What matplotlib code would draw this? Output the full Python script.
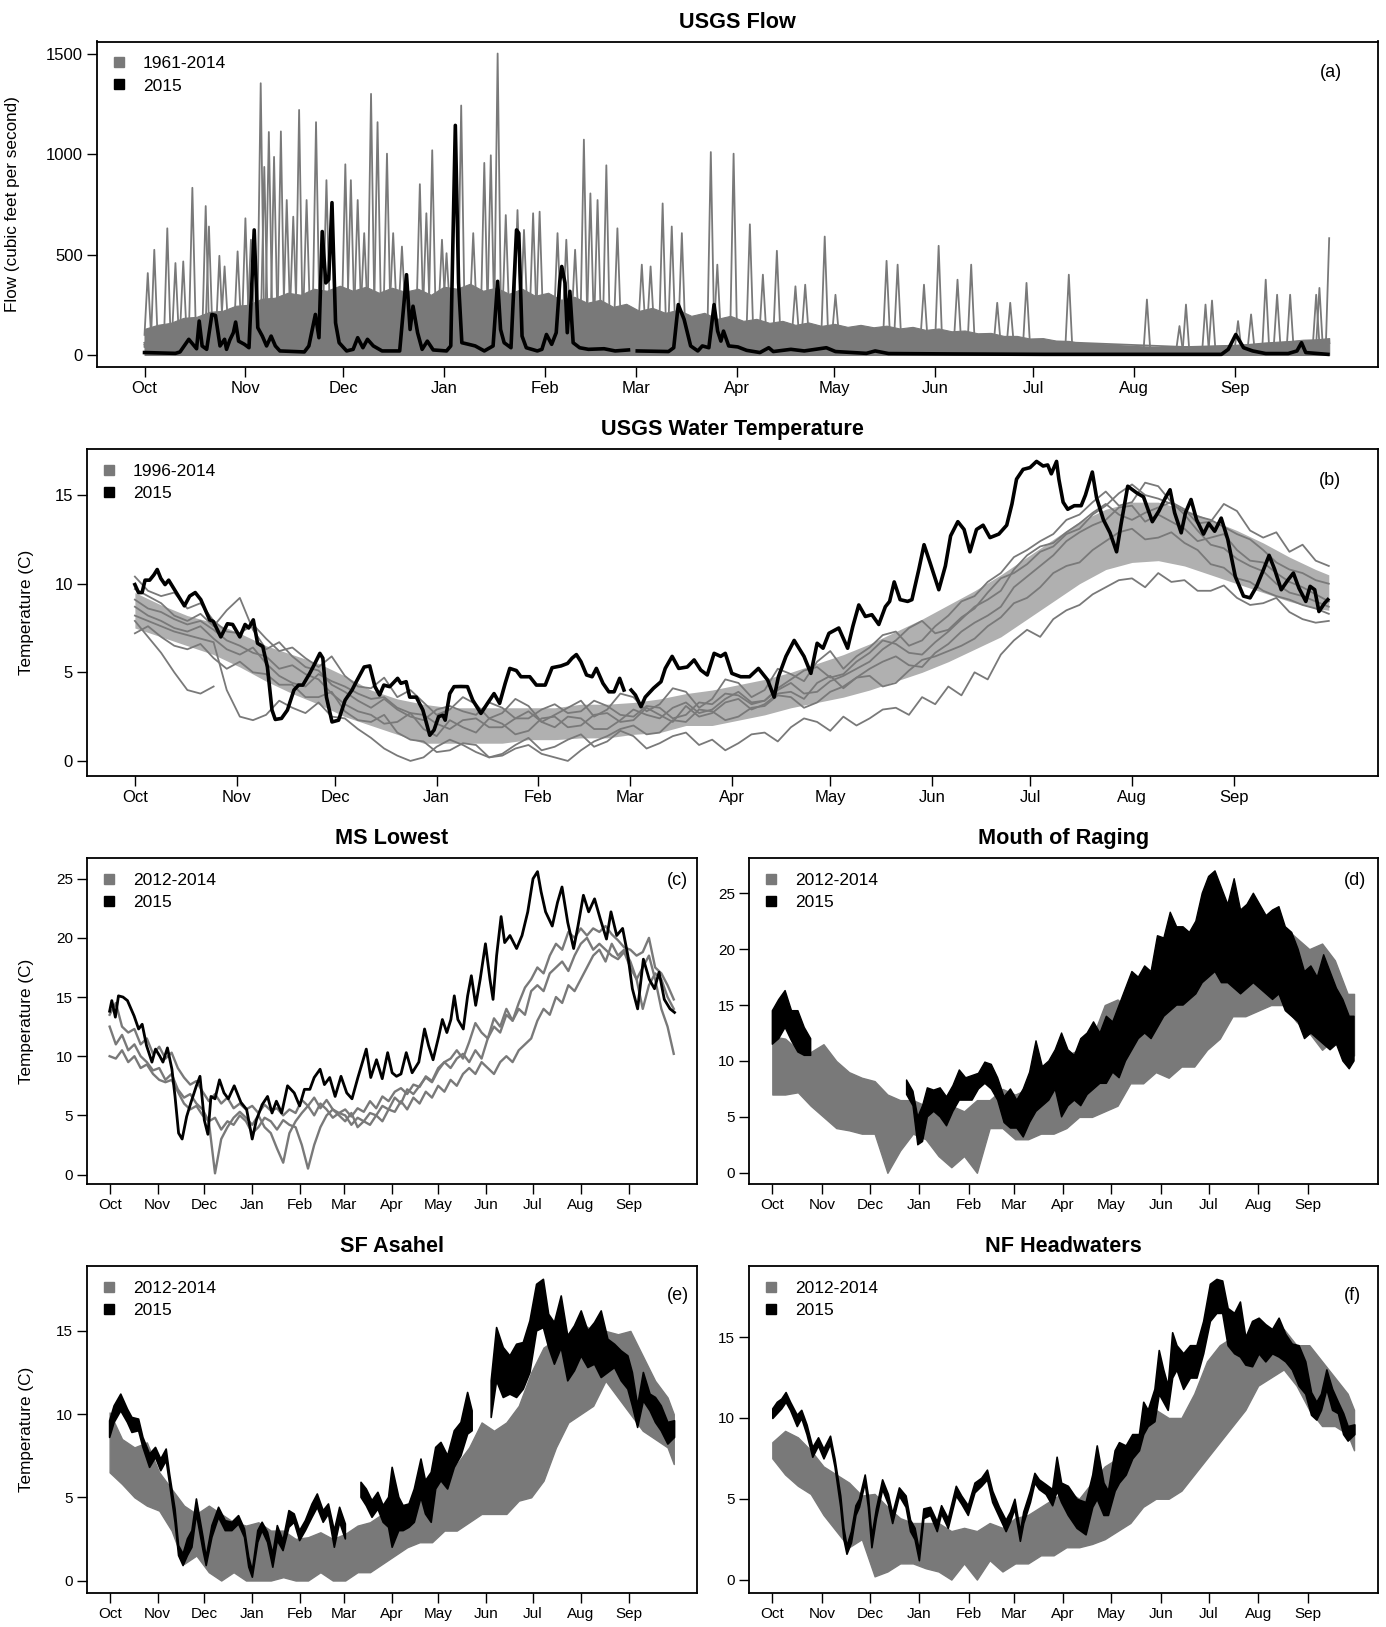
import numpy as np
import matplotlib
matplotlib.use("Agg")
import matplotlib.pyplot as plt
from matplotlib.lines import Line2D

plt.rcParams['font.family'] = ['Liberation Sans', 'DejaVu Sans']

nan = np.nan
GRAY = '#797979'
LIGHT = '#b0b0b0'

# day of water year (0 = Oct 1) where each month starts
month_days = [0, 31, 61, 92, 123, 151, 182, 212, 243, 273, 304, 335]
month_names = ['Oct', 'Nov', 'Dec', 'Jan', 'Feb', 'Mar', 'Apr', 'May', 'Jun', 'Jul', 'Aug', 'Sep']

# ---------------- (a) USGS flow ----------------
a_2015_day = [0, 9.5, 10.9, 13.6, 16, 16.8, 17.7, 19.1, 20.7, 21.8, 23.2, 24.6, 25.2, 26.2, 27.3, 28, 28.9,
              30.7, 32.1, 33.7, 34.8, 36.2, 37.5, 38.9, 40.2, 41.6, 49.1, 50.5, 52.5, 53.6, 54.6, 55.7, 56.6,
              57.6, 58.7, 59.8, 62.1, 64.1, 65.5, 67.1, 68.5, 70.3, 73, 78.4, 80.5, 81.6, 82.5, 83.9, 85.3,
              86.9, 88.7, 92.8, 94.1, 95.5, 96.5, 97.5, 99.6, 101.6, 104.4, 107.1, 108.5, 109.4, 110.5, 112.6,
              114.3, 115, 116, 117.3, 120.7, 122.1, 123.5, 125.1, 126.5, 127.6, 128.2, 129.2, 129.9, 130.7,
              131.7, 133.7, 136.4, 141.2, 144.6, 148.7, 150, 151.4, 161, 162.6, 164, 165.8, 167.8, 170, 171.4,
              173.4, 175, 176.1, 177.1, 177.9, 179.5, 182.3, 185, 189.1, 191.8, 193.2, 198.6, 202.7, 209.5,
              212.3, 221.8, 224.5, 228.6, 249, 276.4, 303.6, 330.9, 333, 335.3, 337.7, 340.5, 344.5, 351.4,
              354.1, 355.5, 356.8, 363.6]
a_2015_flow = [12, 8, 15, 78, 31, 169, 45, 28, 202, 197, 45, 78, 28, 74, 111, 164, 69,
               53, 36, 623, 136, 94, 45, 94, 45, 20, 15, 45, 202, 86, 615, 359, 375,
               759, 160, 61, 20, 28, 86, 36, 78, 45, 20, 20, 400, 127, 243, 111, 28,
               69, 25, 20, 45, 1144, 359, 61, 53, 45, 20, 45, 367, 127, 61, 36,
               623, 607, 94, 36, 20, 28, 102, 53, 111, 367, 441, 359, 111, 317,
               61, 36, 28, 31, 20, 25, nan, 20, 17, 36, 251, 177, 45, 20, 45,
               36, 251, 119, 69, 119, 45, 40, 23, 12, 36, 17, 28, 20, 36,
               17, 8, 20, 7, 5, 3, 3, 3, 28, 102, 36, 20, 7, 7,
               20, 61, 12, 3]

# storm peaks of some 1961-2014 years
a_hist_day = [
    [0, 1, 2, 13.7, 14.7, 15.7, 34.7, 35.7, 36.7, 46.5, 47.5, 48.5, 68.6, 69.6, 70.6, 96.3, 97.3, 98.3, 107.5,
     108.5, 109.5, 134, 135, 136, 173, 174, 175, 208, 209, 210, 243, 244, 245, 283, 284, 285, 307, 308, 309,
     363, 364],
    [0, 2, 3, 4, 17.8, 18.8, 19.8, 37.2, 38.2, 39.2, 51.7, 52.7, 53.7, 70.6, 71.6, 72.6, 87.4, 88.4, 89.4,
     103.4, 104.4, 105.4, 140.9, 141.9, 142.9, 180, 181, 182, 193.3, 194.3, 195.3, 199, 200, 201, 227, 228,
     229, 270, 271, 272, 327, 328, 329, 343.5, 344.5, 345.5, 364],
    [0, 6, 7, 8, 22, 23, 24, 40.9, 41.9, 42.9, 60.7, 61.7, 62.7, 73.5, 74.5, 75.5, 105.4, 106.4, 107.4, 120.4,
     121.4, 122.4, 144.3, 145.3, 146.3, 185, 186, 187, 253, 254, 255, 317, 318, 319, 360, 361, 362, 364],
    [0, 27.6, 28.6, 29.6, 30, 31, 32, 62.4, 63.4, 64.4, 83.6, 84.6, 85.6, 110, 111, 112, 113.6, 114.6, 115.6,
     136, 137, 138, 151.8, 152.8, 153.8, 158.2, 159.2, 160.2, 161, 162, 163, 175, 176, 177, 189, 190, 191,
     261, 262, 263, 319, 320, 321, 335, 336, 337, 339, 340, 341, 347, 348, 349, 359, 360, 361, 364],
    [0, 8.5, 9.5, 10.5, 18.8, 19.8, 20.8, 23.6, 24.6, 25.6, 31.7, 32.7, 33.7, 35.8, 36.8, 37.8, 42.7, 43.7,
     44.7, 48.8, 49.8, 50.8, 54.9, 55.9, 56.9, 64.5, 65.5, 66.5, 75.4, 76.4, 77.4, 85.6, 86.6, 87.6, 90.4,
     91.4, 92.4, 100, 101, 102, 115.6, 116.6, 117.6, 125.9, 126.9, 127.9, 131.3, 132.3, 133.3, 138.2, 139.2,
     140.2, 154.5, 155.5, 156.5, 164.1, 165.1, 166.1, 200, 300, 364],
    [0, 10.9, 11.9, 12.9, 38.8, 39.8, 40.8, 44.7, 45.7, 46.7, 66.5, 67.5, 68.5, 78.1, 79.1, 80.1, 91.8, 92.8,
     93.8, 118.4, 119.4, 120.4, 128.6, 129.6, 130.6, 202, 203, 204, 211.3, 212.3, 213.3, 230.4, 231.4, 232.4,
     238.5, 239.5, 240.5, 248.8, 249.8, 250.8, 265, 266, 267, 325, 326, 327, 351, 352, 353, 364],
]
a_hist_flow = [
    [100, 408, 100, 150, 833, 160, 200, 1354, 220, 220, 1221, 230, 250, 1301, 250, 250, 1243, 250, 240, 1502,
     240, 200, 1073, 200, 150, 1011, 150, 120, 590, 120, 100, 544, 100, 60, 400, 60, 30, 276, 30, 60, 582],
    [60, 80, 524, 90, 140, 742, 150, 220, 1111, 230, 230, 1160, 240, 250, 1160, 250, 240, 1020, 240, 230, 957,
     230, 180, 945, 180, 140, 1003, 140, 130, 519, 130, 120, 342, 120, 110, 469, 110, 70, 359, 70, 35, 271,
     35, 50, 375, 50, 70],
    [50, 90, 631, 90, 130, 494, 130, 200, 1114, 200, 230, 950, 230, 240, 1003, 240, 230, 995, 230, 200, 714,
     200, 170, 631, 170, 130, 651, 130, 90, 450, 90, 25, 144, 25, 50, 334, 50, 60],
    [40, 150, 516, 170, 170, 681, 170, 240, 871, 240, 230, 851, 230, 220, 697, 220, 220, 722, 220, 190, 805,
     190, 160, 450, 160, 160, 755, 160, 160, 640, 160, 130, 450, 130, 120, 400, 120, 70, 260, 70, 25, 251, 25,
     35, 169, 35, 40, 202, 40, 50, 300, 50, 55, 300, 55, 60],
    [60, 110, 458, 110, 150, 640, 150, 160, 441, 160, 190, 574, 190, 200, 937, 200, 210, 772, 210, 220, 772,
     220, 230, 871, 230, 240, 772, 240, 240, 607, 240, 230, 706, 230, 230, 574, 230, 230, 607, 230, 220, 623,
     220, 200, 607, 200, 190, 524, 190, 180, 772, 180, 150, 441, 150, 140, 607, 140, 100, 30, 60],
    [50, 110, 466, 110, 200, 987, 200, 210, 689, 210, 230, 607, 230, 230, 540, 230, 230, 507, 230, 210, 706,
     210, 200, 574, 200, 120, 350, 120, 110, 300, 110, 110, 450, 110, 100, 350, 100, 95, 375, 95, 70, 260, 70,
     25, 251, 25, 50, 300, 50, 60],
]
# upper edge of the dense mass of 1961-2014 traces, every 4 days
core_day = list(range(0, 365, 4))
a_core_flow = [130, 150, 160, 185, 190, 215, 220, 245, 250, 280, 285, 310, 300, 330, 320, 345, 320, 340, 310, 335,
               315, 330, 300, 340, 330, 355, 320, 335, 305, 330, 295, 310, 275, 290, 260, 275, 240, 255, 220, 235,
               210, 225, 195, 210, 180, 195, 170, 180, 160, 170, 150, 162, 145, 155, 140, 150, 138, 146, 132, 140,
               125, 132, 118, 122, 108, 110, 95, 95, 82, 84, 72, 70, 58, 56, 47, 45, 38, 37, 32, 32,
               32, 36, 40, 44, 50, 56, 62, 66, 70, 76, 78, 84]

# ---------------- (b) USGS water temperature ----------------
b_2015_day = [0, 1.1, 2.2, 3.1, 4.5, 5.8, 6.8, 7.9, 9.2, 10.3, 12.6, 15.1, 16.7, 18.4, 20.1, 22.8, 23.9, 26.2,
              28.2, 29.8, 32, 33.6, 34.7, 36.1, 37.4, 39, 40.4, 41.8, 42.8, 44.7, 46.5, 48.5, 49.9, 51.2, 53.3,
              54.6, 56.4, 57.3, 58.4, 60.1, 62.1, 64.1, 66.2, 67.5, 69.9, 71.6, 73.2, 74.6, 75.9, 77.7, 80.1,
              81.1, 82.7, 83.8, 85.8, 87.8, 89.9, 91.2, 92.6, 93.9, 94.6, 96, 97.3, 99.4, 101.4, 103, 105.5,
              107.5, 109.5, 111.2, 112.9, 114.3, 116.3, 117.7, 120.4, 122.4, 125.1, 126.1, 127.2, 129.9, 131.9,
              133.3, 134.6, 136, 137.7, 139.4, 140.7, 142.7, 144.5, 146.1, 147.8, 149.1, 150.2, 151.3, 152.6,
              154.3, 155.6, 158.1, 160.4, 161.7, 163.8, 165.8, 168.4, 170.5, 172.5, 174.5, 176.6, 178.6, 180,
              182, 184.7, 187.4, 190.1, 192.9, 194.9, 196.2, 198.5, 201, 204, 206.1, 208, 209.8, 211.6, 214.6,
              217.3, 218.9, 220.7, 222.7, 224.7, 226.8, 228.8, 230.1, 231.5, 233.3, 235.6, 236.9, 239, 240.6,
              242.4, 245.1, 247.1, 248.7, 250.9, 252.8, 254.6, 256.6, 258.6, 260.7, 263.4, 265.8, 267.4, 268.8,
              270.8, 272.9, 274.9, 276.9, 278.3, 279.4, 281, 281.7, 283, 284.4, 286.4, 288.5, 289.8, 291.9,
              293.2, 295.3, 297.3, 299.3, 300.7, 302.7, 305.4, 307.5, 310.2, 312.2, 314.2, 315.6, 317, 319,
              320.3, 322, 323.7, 325.8, 327.4, 329.2, 331.2, 333.2, 335.5, 338, 340, 342, 344.1, 345.8, 347.5,
              349.5, 351.5, 353.2, 354.9, 357, 358.3, 359.7, 361, 362.7, 363.7]
b_2015_temp = [9.95, 9.5, 9.5, 10.2, 10.2, 10.5, 10.8, 10.3, 9.95, 10.2, 9.5, 8.75, 9.3, 9.5, 9.1, 7.96, 7.87, 7.0,
               7.74, 7.7, 7.0, 7.7, 7.5, 7.96, 6.64, 6.45, 5.3, 2.87, 2.34, 2.4, 2.87, 4.0, 4.28, 4.28, 4.94,
               5.4, 6.07, 5.8, 3.6, 2.2, 2.3, 3.43, 4.0, 4.47, 5.3, 5.36, 4.19, 3.72, 4.28, 4.19, 4.66,
               4.38, 4.47, 3.6, 3.6, 2.87, 1.45, 1.74, 2.5, 2.58, 2.3, 3.8, 4.19, 4.2, 4.19, 3.43, 2.68,
               3.25, 3.8, 3.25, 4.38, 5.22, 5.1, 4.75, 4.75, 4.28, 4.28, 4.75, 5.26, 5.36, 5.5,
               5.8, 6.0, 5.6, 4.85, 4.75, 5.22, 4.38, 3.9, 3.9, 4.66, 4.0, nan, 4.0, 3.72,
               3.06, 3.6, 4.1, 4.47, 5.22, 5.9, 5.22, 5.3, 5.7, 5.13, 4.85, 6.07, 5.9, 6.07,
               4.94, 4.75, 4.75, 5.22, 4.57, 3.6, 4.75, 5.9, 6.8, 5.9, 4.94, 6.64, 6.36, 7.2, 7.5,
               6.36, 7.6, 8.8, 8.15, 8.25, 7.7, 8.7, 9.0, 10.1, 9.1, 9.0, 9.1, 10.8, 12.2,
               11.2, 9.66, 11.0, 12.7, 13.5, 13.06, 11.8, 13.06, 13.3, 12.6, 12.8, 13.3, 14.5, 15.9,
               16.45, 16.55, 16.9, 16.64, 16.7, 16.2, 16.9, 15.9, 14.6, 14.2, 14.4, 14.4, 15.0, 16.3,
               14.85, 13.6, 12.87, 11.8, 13.4, 15.5, 15.13, 14.9, 13.5, 14.1, 14.85, 15.3, 14.0, 12.87,
               14.0, 14.75, 13.6, 12.8, 13.4, 12.96, 13.7, 12.5, 10.4, 9.3, 9.2, 9.85, 10.8, 11.6, 10.8,
               9.66, 10.2, 10.6, 9.75, 9.0, 9.85, 9.66, 8.43, 8.9, 9.1]

# a few of the 1996-2014 years, every 4 days
b_hist_temp = [
    [10.4, 9.6, 9.3, 9.5, 8.6, 8.9, 7.9, 7.3, 7.2, 7.7, 6.9, 6.2, 6.4, 5.8, 5.3, 5.9, 4.8, 4.2, 4.1, 4.7,
     3.6, 4.0, 3.3, 2.6, 2.9, 3.6, 3.2, 2.4, 2.7, 3.5, 3.1, 2.2, 2.6, 3.0, 3.4, 2.5, 2.9, 3.8, 3.6, 2.8,
     3.2, 4.1, 3.9, 3.0, 3.5, 4.6, 4.4, 3.6, 4.0, 5.2, 4.9, 4.5, 5.6, 6.2, 5.2, 5.9, 6.4, 7.1, 7.3, 6.5,
     6.8, 7.6, 8.2, 9.0, 9.3, 10.1, 10.6, 11.5, 11.9, 12.4, 12.8, 13.6, 13.9, 14.6, 15.2, 14.4, 14.6, 15.7,
     15.5, 14.6, 14.2, 13.4, 13.5, 14.5, 14.1, 13.0, 12.6, 12.9, 11.8, 12.2, 11.3, 11.0],
    [7.2, 7.6, 7.0, 6.5, 6.3, 6.6, 5.8, 5.2, 5.6, 5.0, 4.9, 4.3, 4.3, 3.6, 3.6, 3.9, 2.8, 2.3, 2.2, 2.6,
     1.6, 1.2, 1.1, 0.5, 0.6, 1.0, 0.9, 0.2, 0.4, 0.9, 1.3, 0.6, 0.8, 1.2, 1.5, 0.8, 1.1, 1.7, 1.4, 0.7,
     1.0, 1.4, 1.6, 0.9, 1.2, 0.6, 1.0, 1.5, 1.6, 1.1, 1.9, 2.4, 2.2, 1.7, 2.5, 2.0, 2.4, 2.9, 3.0, 2.6,
     3.6, 3.2, 4.2, 3.7, 5.0, 4.6, 6.0, 6.8, 7.4, 7.0, 8.0, 8.5, 8.8, 9.4, 9.8, 10.2, 10.3, 9.8, 10.6, 10.1,
     10.2, 9.6, 9.6, 9.9, 9.2, 8.8, 8.9, 9.2, 8.4, 8.0, 7.8, 7.9],
    [9.1, 8.6, 8.4, 8.0, 7.7, 7.9, 7.4, 6.8, 6.5, 6.1, 5.9, 5.2, 5.4, 4.9, 4.6, 3.8, 3.2, 2.8, 2.6, 2.1,
     2.2, 2.7, 1.8, 1.4, 2.3, 1.9, 1.6, 2.4, 2.1, 1.5, 1.7, 2.4, 2.5, 1.9, 2.0, 2.6, 2.7, 2.2, 2.3, 3.0,
     2.6, 2.2, 3.1, 2.5, 2.7, 3.3, 3.5, 2.9, 3.2, 3.8, 3.9, 3.5, 4.4, 4.8, 4.1, 4.7, 5.2, 5.6, 5.9, 5.4,
     5.3, 6.1, 6.6, 7.3, 7.8, 8.2, 8.7, 9.8, 10.4, 11.0, 11.6, 12.4, 12.9, 13.3, 13.6, 14.3, 14.4, 13.5,
     13.9, 13.5, 13.1, 12.4, 12.6, 12.8, 11.9, 11.3, 11.2, 10.6, 10.1, 9.8, 9.4, 9.0],
    [8.2, 7.9, 7.6, 7.3, 7.1, 6.9, 6.7, 4.0, 2.5, 2.3, 2.6, 3.4, 3.0, 2.7, 3.3, 2.5, 2.4, 1.8, 1.3, 0.7,
     0.3, 0.0, 0.2, 0.8, 1.2, 0.9, 0.5, 0.2, 0.3, 0.7, 0.9, 0.4, 0.2, 0.0, 0.6, 1.1, 1.4, 1.8, 2.0, 1.5,
     1.6, 2.3, 2.2, 2.9, 2.8, 2.3, 2.5, 3.0, 3.1, 3.7, 3.6, 3.0, 3.3, 3.9, 4.2, 4.7, 4.8, 4.2, 4.4, 5.1,
     5.7, 5.9, 6.2, 6.5, 6.9, 7.6, 8.1, 8.9, 9.2, 9.8, 10.6, 11.0, 11.2, 11.9, 12.4, 12.9, 13.1, 12.5,
     12.6, 12.9, 12.3, 11.9, 11.1, 10.9, 10.3, 10.1, 9.6, 9.3, 9.1, 8.8, 8.6, 8.3],
    [8.7, 8.2, 7.9, 7.5, 7.3, 7.6, 6.9, 6.3, 6.0, 6.4, 5.5, 4.8, 4.4, 4.2, 4.9, 4.5, 4.2, 3.8, 3.5, 3.6,
     3.0, 2.7, 2.6, 2.1, 1.8, 2.3, 2.4, 1.9, 1.9, 2.4, 2.8, 2.2, 1.9, 2.5, 2.4, 1.8, 1.8, 2.3, 2.9, 2.6,
     2.4, 3.0, 3.3, 2.7, 2.9, 3.5, 3.9, 3.3, 3.4, 4.0, 4.4, 3.8, 3.9, 4.5, 4.8, 5.2, 5.6, 6.3, 6.8, 7.5,
     7.9, 7.2, 7.4, 8.1, 8.6, 9.5, 10.3, 10.6, 11.1, 11.8, 12.1, 12.8, 13.1, 13.9, 14.4, 15.1, 15.6, 15.0,
     14.8, 14.5, 14.1, 13.8, 13.6, 13.2, 12.8, 12.5, 11.9, 11.2, 10.8, 10.6, 10.2, 10.0],
    [9.7, 9.3, 8.9, 8.2, 7.9, 8.3, 7.6, 8.5, 9.2, 7.4, 6.3, 6.7, 5.9, 5.3, 5.1, 4.3, 3.9, 3.4, 3.0, 3.5,
     2.9, 2.5, 2.3, 2.9, 3.1, 2.8, 2.6, 3.3, 3.0, 2.4, 2.4, 2.9, 3.2, 2.7, 2.8, 3.4, 3.1, 2.6, 2.5, 3.1,
     3.0, 2.4, 2.6, 3.3, 3.2, 3.8, 3.7, 3.2, 3.4, 4.1, 4.6, 5.1, 5.3, 4.7, 4.9, 5.6, 6.1, 6.8, 6.6, 6.1,
     6.0, 6.7, 7.3, 8.0, 8.7, 9.1, 9.6, 10.8, 11.6, 12.1, 12.3, 12.9, 13.4, 14.0, 14.5, 13.9, 13.6, 14.0,
     14.3, 14.6, 13.9, 13.0, 12.2, 12.0, 11.4, 11.0, 10.7, 10.0, 9.5, 9.3, 9.0, 8.7],
    [7.9, 7.0, 6.1, 5.0, 4.0, 3.8, 4.2] + [nan] * 85,
]
# dense middle of the 1996-2014 traces, every 8 days
band_day = list(range(0, 361, 8)) + [364]
b_core_lo = [7.5, 7.0, 6.5, 6.0, 5.3, 4.5, 3.8, 3.2, 2.5, 2.0, 1.5, 1.0, 1.0, 1.0, 1.0, 1.2, 1.2, 1.3, 1.3, 1.5,
             1.6, 2.0, 2.0, 2.3, 2.6, 3.0, 3.3, 3.6, 4.0, 4.5, 5.0, 5.6, 6.3, 7.0, 8.0, 9.0, 10.0, 10.8, 11.2,
             11.3, 11.0, 10.5, 10.0, 9.5, 9.0, 8.6, 8.5]
b_core_hi = [9.5, 8.8, 8.2, 7.8, 7.2, 6.5, 6.0, 5.5, 4.8, 4.0, 3.5, 3.2, 3.0, 3.0, 3.0, 3.0, 3.0, 3.2, 3.2, 3.3,
             3.5, 3.8, 4.0, 4.3, 4.6, 5.0, 5.5, 6.0, 6.6, 7.3, 8.0, 8.8, 9.6, 10.5, 11.5, 12.5, 13.5, 14.2, 14.6,
             14.6, 14.2, 13.6, 13.0, 12.3, 11.5, 10.8, 10.5]

# ---------------- (c) MS Lowest ----------------
c_2015_day = [0, 1.4, 3.7, 5.7, 8.6, 11.5, 15.8, 18.7, 21, 23.8, 27.3, 29.6, 32.4, 34.4, 37.3, 40.2, 42.2, 44.5,
              46.8, 49.7, 52.5, 56, 58.3, 61.1, 63.4, 65.4, 68, 70.9, 73.8, 76.6, 80.4, 84.7, 88.4, 92, 94.7,
              98.4, 101.9, 104.8, 107.6, 111, 114.8, 119.1, 122.6, 125.7, 129.2, 132, 135.8, 138.6, 142, 145.5,
              149.3, 153, 156.4, 160.2, 163.6, 165.6, 168.5, 172.2, 175.9, 179.4, 182.3, 185.1, 188, 191.4,
              195.2, 199.5, 203.2, 205.8, 208.7, 212.4, 214.7, 217.6, 220.2, 222.4, 224.7, 228.2, 231, 233.4,
              236.2, 239.1, 242.5, 245.4, 247.4, 249.7, 252.6, 254.9, 258.3, 262.6, 266.1, 269.8, 273.2, 276.1,
              278.4, 281.3, 285.6, 289, 291.9, 295.6, 299.4, 302.2, 305.7, 309.1, 312.9, 316.6, 320.6, 323.5,
              327.2, 331, 334.4, 337.3, 340.7, 344.4, 348.2, 351.6, 354.5, 357.9, 361.6, 364.5]
c_2015_temp = [13.8, 14.7, 13.3, 15.1, 15.0, 14.7, 13.4, 12.3, 12.7, 10.9, 9.5, 10.6, 10.0, 9.5, 10.7, 8.9, 6.6, 3.5,
               3.0, 4.9, 6.1, 7.5, 8.3, 4.6, 3.4, 6.6, 6.4, 8.0, 6.9, 6.4, 7.5, 6.1, 5.5, 3.0, 4.6,
               5.9, 6.6, 5.2, 6.2, 5.2, 7.5, 6.9, 5.8, 7.2, 7.2, 8.2, 8.9, 7.6, 8.2, 6.6,
               8.3, 6.9, 6.4, 8.2, 9.7, 10.6, 8.2, 9.7, 8.1, 10.3, 8.6, 8.3, 8.5, 10.3,
               8.6, 9.5, 12.3, 10.9, 9.7, 11.7, 13.1, 12.0, 13.1, 15.1, 13.1, 12.3, 15.1, 16.8,
               14.3, 16.5, 19.5, 16.5, 14.8, 18.5, 21.8, 19.6, 20.2, 19.1, 20.2, 22.2, 25.0, 25.6,
               23.9, 22.2, 21.0, 23.0, 24.3, 21.3, 19.1, 21.0, 23.6, 22.2, 23.3, 21.6, 19.9, 22.2,
               20.2, 20.8, 18.5, 15.7, 14.0, 18.2, 16.5, 15.7, 17.1, 14.8, 14.0, 13.7]

c_hist_temp = [
    [13.5, 14.5, 12.5, 12.0, 12.3, 11.0, 11.5, 10.2, 10.8, 9.8, 10.3, 9.0, 8.2, 7.6, 7.9, 7.0, 6.2, 6.8, 6.0, 6.5,
     5.6, 6.0, 5.5, 5.8, 5.2, 5.9, 5.4, 5.6, 5.0, 5.5, 5.2, 6.3, 5.8, 6.5, 5.6, 6.3, 5.5, 5.2, 5.5, 4.9,
     5.6, 5.3, 6.2, 5.6, 6.6, 6.2, 7.0, 7.3, 6.8, 7.6, 7.4, 8.3, 7.9, 9.0, 9.5, 9.8, 10.5, 9.8, 11.2, 12.8,
     12.0, 11.5, 13.2, 12.5, 14.0, 13.0, 14.5, 15.8, 16.5, 17.5, 17.0, 18.5, 19.5, 19.0, 20.5, 20.0, 20.8, 20.2,
     20.8, 20.5, 21.0, 20.3, 19.8, 19.2, 19.0, 18.5, 18.8, 20.0, 17.5, 17.0, 16.0, 14.8],
    [12.5, 11.0, 11.8, 10.5, 11.0, 10.0, 9.5, 8.8, 9.0, 8.0, 8.5, 7.2, 6.5, 6.8, 6.0, 5.5, 4.5, 0.1, 3.0, 4.0,
     4.8, 5.3, 4.8, 4.2, 5.0, 4.0, 3.5, 2.2, 1.0, 3.5, 4.5, 5.2, 5.8, 5.0, 6.0, 5.5, 4.8, 5.2, 5.0, 4.2,
     4.8, 4.5, 5.2, 5.0, 5.8, 5.5, 6.5, 6.0, 7.2, 6.8, 7.5, 8.2, 7.8, 8.8, 9.5, 9.0, 9.8, 10.2, 9.5, 10.5,
     9.8, 11.5, 12.5, 12.0, 13.5, 13.0, 14.0, 13.5, 15.5, 16.0, 15.5, 17.0, 17.5, 18.0, 17.2, 18.5, 19.5, 20.0,
     19.0, 19.5, 19.0, 18.5, 18.2, 18.8, 17.5, 16.5, 17.5, 18.5, 16.5, 14.0, 12.5, 10.2],
    [10.0, 9.8, 10.5, 9.5, 10.0, 9.0, 9.3, 8.5, 8.0, 7.8, 8.0, 7.0, 6.0, 5.5, 5.8, 5.0, 4.5, 4.8, 3.8, 4.5,
     4.2, 5.0, 4.5, 3.5, 4.0, 4.8, 4.5, 3.8, 4.6, 4.2, 4.0, 2.5, 0.5, 2.5, 4.0, 5.0, 5.5, 5.0, 4.5, 5.2,
     4.0, 4.5, 4.2, 5.0, 4.5, 5.5, 5.3, 6.2, 5.5, 6.5, 6.0, 7.0, 6.5, 7.5, 7.0, 8.0, 7.5, 8.5, 9.0, 8.5,
     9.5, 9.0, 8.5, 9.5, 10.0, 9.5, 10.5, 11.0, 11.5, 13.0, 14.0, 13.5, 15.0, 14.5, 16.0, 15.5, 16.5, 17.5,
     18.5, 19.0, 18.0, 19.5, 18.5, 19.0, 18.0, 16.5, 14.0, 16.0, 17.0, 16.5, 15.0, 14.0],
]

# ---------------- (d) Mouth of Raging: daily low / high ----------------
d_2015_day = [0, 4, 8, 12, 16, 20, 24, 54, 84, 88, 91, 94, 97] + list(range(101, 358, 4)) + [361, 364]
d_2015_lo = [11.5, 12.0, 13.0, 11.8, 10.8, 10.5, 10.5, nan, 7.0, 6.0, 2.5, 2.8, 5.0,
             5.5, 5.0, 4.2, 5.5, 6.5, 6.5, 6.5, 7.5, 8.0, 7.5, 6.5, 4.5, 4.0, 4.0, 3.2, 4.5, 5.5, 6.0, 6.5,
             7.5, 5.0, 6.0, 6.5, 6.0, 7.0, 7.5, 8.0, 8.0, 9.0, 8.5, 10.0, 11.0, 12.0, 12.5, 12.0, 13.0, 14.0,
             14.5, 15.0, 15.0, 15.5, 16.0, 17.0, 17.5, 18.0, 17.0, 17.0, 16.5, 16.0, 16.5, 17.0, 16.5, 16.0,
             15.5, 16.0, 14.5, 14.0, 13.5, 12.0, 12.5, 12.0, 11.5, 11.0, 11.5, 10.0, 9.3, 10.0]
d_2015_hi = [14.5, 15.5, 16.3, 14.5, 14.5, 13.0, 12.0, nan, 8.3, 7.3, 5.0, 6.0, 7.6,
             7.4, 7.6, 6.8, 7.8, 9.2, 8.5, 8.7, 8.9, 9.9, 9.7, 8.5, 6.8, 7.5, 6.5, 7.5, 9.0, 11.8, 9.5, 10.0,
             11.0, 12.5, 11.0, 10.5, 12.0, 12.5, 13.5, 12.5, 14.0, 13.5, 15.0, 16.5, 18.0, 17.5, 18.5, 18.0,
             21.2, 21.0, 23.3, 22.0, 22.0, 21.5, 22.5, 25.0, 26.5, 27.0, 25.5, 24.0, 26.3, 23.5, 24.0, 25.0,
             24.0, 23.0, 23.5, 23.8, 22.0, 21.5, 20.0, 18.0, 18.5, 17.5, 19.5, 18.0, 16.5, 15.5, 14.0, 14.0]
d_hist_lo = [7.0, 7.0, 7.2, 6.0, 5.0, 4.0, 3.8, 3.5, 3.5, 0.0, 2.0, 3.5, 3.0, 1.5, 0.5, 1.5, 0.0, 4.0, 4.0, 3.0,
             3.0, 3.5, 3.5, 4.0, 5.0, 5.0, 5.5, 6.0, 8.0, 8.0, 9.0, 8.5, 9.5, 9.5, 11.0, 12.0, 14.0, 14.0, 14.5,
             15.0, 15.0, 13.5, 12.5, 11.0, 12.0, 10.5, 10.5]
d_hist_hi = [12.2, 12.0, 11.0, 10.8, 11.5, 10.0, 9.0, 8.5, 8.2, 7.0, 6.5, 6.5, 6.0, 7.0, 6.0, 5.5, 6.5, 6.5, 7.5,
             7.0, 7.5, 9.5, 9.0, 10.5, 11.0, 12.0, 15.0, 15.5, 14.5, 15.5, 16.5, 16.0, 17.0, 17.5, 19.0, 22.0,
             24.0, 23.0, 23.5, 22.5, 22.0, 21.0, 20.0, 20.5, 19.0, 16.0, 16.0]

# ---------------- (e) SF Asahel ----------------
e_2015_day = [0, 2.9, 7.2, 11.5, 14.4, 18.7, 21.5, 25.8, 29.6, 33, 36.5, 38.7, 42.2, 44.5, 47.4, 50.2, 53.1, 56,
              60.3, 62.3, 66, 70.3, 74.6, 78.9, 83.2, 87, 89.8, 92.1, 95.6, 98.4, 101.9, 105.3, 108.2, 111.9,
              115.7, 119.1, 122.6, 126.3, 130.6, 134, 137.8, 141.2, 145, 148.4, 152.1, 157, 162.2, 165.6, 169.3,
              173.1, 176.5, 180, 182.3, 186.6, 189.4, 193.2, 196.6, 200.9, 203.8, 207.5, 210.4, 213.8, 218.1,
              222.4, 226.7, 231, 233.9, 240, 246.2, 249.7, 254, 258.3, 262.6, 266.9, 271.2, 275.5, 279.9, 283.3,
              287, 291.4, 295.6, 299.9, 304.3, 308.6, 312.9, 317.2, 321.5, 325.8, 330.1, 334.4, 337.3, 340.7,
              344.4, 348.7, 352.2, 355.9, 360.2, 364.5]
e_2015_lo = [8.6, 9.5, 10.2, 9.5, 8.9, 9.0, 8.0, 6.8, 7.4, 6.6, 7.2, 5.8, 3.5, 1.5, 0.9, 1.5, 2.0, 4.0, 1.8, 0.9,
             2.6, 3.8, 3.0, 3.0, 3.4, 2.6, 0.8, 0.2, 2.3, 3.0, 2.3, 0.8, 2.4, 1.8, 3.2, 3.5, 2.4, 3.0, 3.8, 4.4,
             3.5, 4.0, 2.0, 3.5, 2.5, nan, 5.0, 4.5, 3.8, 4.3, 3.5, 3.2, 2.0, 3.0, 3.0, 3.2, 3.5, 5.0, 4.0, 3.5,
             5.5, 6.0, 5.5, 6.8, 7.5, 8.8, 9.0, nan, 9.8, 12.0, 11.0, 11.2, 11.0, 11.5, 12.5, 15.0, 15.2, 14.0,
             13.0, 14.0, 12.0, 12.6, 13.5, 12.8, 13.0, 12.2, 12.5, 12.8, 12.0, 11.5, 10.5, 9.2, 10.8, 10.2, 9.5,
             9.0, 8.2, 8.6]
e_2015_hi = [9.6, 10.5, 11.2, 10.3, 9.8, 9.7, 8.6, 7.6, 8.0, 7.3, 7.9, 6.4, 4.3, 2.1, 1.6, 2.5, 3.0, 4.9, 2.6, 1.4,
             3.3, 4.4, 3.6, 3.5, 3.9, 3.1, 1.4, 0.6, 3.0, 3.5, 2.9, 1.6, 3.3, 2.4, 4.2, 4.0, 3.0, 3.6, 4.6, 5.2,
             4.2, 4.6, 3.0, 4.4, 3.4, nan, 5.9, 5.5, 4.8, 5.3, 4.5, 5.0, 6.8, 5.0, 4.5, 4.6, 5.5, 7.3, 6.0, 6.5,
             8.0, 8.3, 7.5, 9.0, 9.5, 11.3, 10.2, nan, 12.0, 15.2, 14.0, 13.5, 14.2, 14.3, 15.6, 17.8, 18.1, 16.0,
             15.5, 17.1, 14.7, 15.3, 16.2, 15.0, 15.5, 16.2, 14.5, 14.2, 13.8, 13.5, 12.5, 10.5, 12.5, 11.2, 11.0,
             10.5, 9.5, 9.6]
e_hist_lo = [6.5, 5.8, 5.0, 4.5, 4.2, 3.0, 1.0, 1.5, 0.5, 0.0, 0.5, 0.0, 0.0, 0.0, 0.2, 0.0, 0.0, 0.5, 0.0, 0.0,
             0.5, 0.5, 1.0, 1.5, 2.0, 2.3, 2.3, 3.0, 3.0, 3.5, 4.0, 4.0, 4.0, 4.8, 5.0, 6.0, 8.0, 9.5, 10.0, 10.5,
             12.0, 11.0, 10.0, 9.0, 8.5, 8.0, 7.0]
e_hist_hi = [10.1, 8.5, 8.0, 8.3, 6.5, 5.5, 4.5, 4.0, 4.5, 4.0, 3.5, 3.3, 3.5, 3.0, 3.0, 2.5, 2.6, 2.9, 2.5, 2.8,
             3.3, 3.5, 4.0, 4.2, 4.5, 5.5, 6.0, 6.5, 7.0, 8.0, 9.5, 9.0, 9.5, 10.5, 12.5, 14.0, 14.5, 14.5, 15.5,
             15.0, 15.0, 14.8, 15.0, 13.5, 12.0, 11.0, 10.0]

# ---------------- (f) NF Headwaters ----------------
f_2015_day = [0, 2.8, 5.6, 8.3, 11.1, 15.3, 18.1, 21.4, 25, 28.6, 32, 36.1, 38.9, 42.5, 44.5, 46.4, 49.2, 52, 54.2,
              57.8, 59.8, 62, 64.8, 68.7, 72.3, 75, 79.2, 83.4, 86.2, 89, 91.7, 94.5, 98.7, 102.9, 105.6, 109.8,
              114.8, 118.2, 122.3, 126.5, 130.7, 134.3, 137.6, 141.8, 146, 148.7, 151.5, 154.9, 157, 161.2, 164,
              166.8, 171, 175.1, 177.9, 180.7, 184.9, 190.4, 196, 200.2, 203, 207.2, 210, 214.2, 216.9, 221.1,
              225.2, 229.4, 232.1, 234.9, 239.1, 241.8, 244.6, 247.4, 250.2, 252.9, 257.1, 261.3, 265.4, 269.6,
              273.8, 277.9, 281.5, 284.9, 289, 292.6, 296, 300.2, 304.3, 308.5, 312.7, 316.8, 321, 325.1, 329.3,
              333.5, 337.1, 340.4, 343.3, 346.7, 350.3, 353.9, 357.2, 360, 364.2]
f_2015_lo = [10.0, 10.3, 10.6, 11.0, 10.5, 9.5, 10.0, 9.0, 7.6, 8.3, 7.5, 8.4, 7.0, 4.5, 2.5, 1.6, 2.3, 4.0, 4.5,
             6.0, 4.5, 2.0, 3.8, 5.6, 4.7, 3.5, 5.2, 4.5, 3.0, 2.5, 1.2, 3.8, 4.0, 3.0, 4.1, 3.2, 5.2, 4.7, 4.0,
             5.4, 5.8, 6.2, 4.8, 3.9, 3.0, 3.6, 4.4, 2.4, 3.5, 4.8, 6.0, 5.6, 5.3, 4.6, 5.5, 4.8, 4.0, 3.2, 2.8,
             4.5, 5.0, 4.0, 4.0, 5.5, 6.0, 6.5, 7.5, 8.0, 9.0, 9.5, 9.8, 11.5, 11.0, 10.5, 12.5, 13.0, 11.8,
             12.5, 12.5, 14.0, 16.0, 16.5, 16.5, 14.5, 14.0, 13.8, 13.3, 13.2, 14.0, 13.5, 14.0, 13.8, 13.5,
             13.0, 12.0, 11.5, 10.2, 9.9, 10.5, 11.8, 10.5, 10.3, 9.0, 8.6, 9.0]
f_2015_hi = [10.6, 11.0, 11.2, 11.6, 11.0, 10.2, 10.5, 9.6, 8.2, 8.8, 8.1, 8.9, 7.5, 5.2, 3.2, 2.1, 3.0, 4.6, 5.0,
             6.5, 5.2, 2.7, 4.4, 6.2, 5.3, 4.1, 5.7, 5.2, 3.7, 3.2, 1.8, 4.4, 4.5, 3.6, 4.6, 3.8, 5.8, 5.2, 4.6,
             6.0, 6.3, 6.8, 5.5, 4.5, 3.7, 4.2, 5.0, 3.0, 4.2, 5.5, 6.6, 6.2, 5.9, 5.6, 7.6, 6.0, 5.8, 5.0, 4.8,
             6.5, 8.3, 6.0, 5.5, 8.0, 8.5, 8.3, 9.0, 9.0, 11.0, 10.5, 11.8, 14.2, 13.0, 12.0, 15.3, 14.5, 14.0,
             14.5, 14.5, 16.0, 18.3, 18.6, 18.5, 16.8, 16.5, 17.2, 15.0, 16.0, 16.2, 15.8, 15.5, 16.2, 15.2,
             14.6, 14.5, 13.5, 11.6, 11.0, 11.5, 13.0, 11.8, 11.0, 10.3, 9.5, 9.6]
f_hist_lo = [7.5, 6.5, 5.8, 5.3, 4.0, 3.0, 2.0, 2.5, 0.2, 0.5, 1.0, 1.0, 0.7, 0.5, 0.0, 1.0, 0.0, 1.2, 0.5, 1.0,
             1.0, 1.5, 1.5, 2.0, 2.0, 2.2, 2.5, 3.0, 3.5, 4.5, 5.0, 5.0, 5.5, 6.5, 7.5, 8.5, 9.5, 10.5, 12.0, 12.5,
             13.0, 12.0, 10.5, 9.5, 9.5, 9.0, 8.0]
f_hist_hi = [8.5, 9.2, 8.8, 8.0, 7.0, 6.5, 6.0, 5.2, 5.3, 4.5, 3.8, 3.5, 3.5, 3.5, 3.0, 3.2, 3.0, 3.5, 3.2, 3.8,
             4.0, 4.5, 5.0, 5.5, 5.0, 6.0, 7.0, 7.5, 8.0, 9.5, 10.5, 10.0, 10.0, 11.5, 13.5, 14.5, 15.0, 15.0, 15.3,
             15.0, 15.5, 14.5, 14.5, 13.5, 12.5, 11.5, 10.5]


W, H = 1386, 1627
fig = plt.figure(figsize=(W / 100, H / 100), dpi=100)


def box(x0, y0, x1, y1):
    return [x0 / W, 1 - y1 / H, (x1 - x0) / W, (y1 - y0) / H]


def setup(ax, title, ylim, yticks, tag, years, fs, ylabel=None, ylab_x=None, tag_xy=(0.963, 0.904)):
    ax.set_xlim(-14.6, 379)
    ax.set_ylim(*ylim)
    ax.set_xticks(month_days)
    ax.set_xticklabels(month_names)
    ax.set_yticks(yticks)
    ax.tick_params(direction='out', length=7, width=1, labelsize=fs, pad=3, colors='black')
    for s in ax.spines.values():
        s.set_linewidth(1.3)
    ax.set_title(title, fontweight='bold', fontsize=15.6, pad=10)
    if ylabel:
        ax.set_ylabel(ylabel, fontsize=12.3)
        ax.yaxis.set_label_coords(ylab_x, 0.5)
    ax.text(tag_xy[0], tag_xy[1], tag, transform=ax.transAxes, ha='center', va='center', fontsize=13)
    handles = [Line2D([], [], marker='s', color=GRAY, linestyle='None', markersize=7),
               Line2D([], [], marker='s', color='black', linestyle='None', markersize=7)]
    ax.legend(handles, [years, '2015'], loc='upper left', frameon=False, fontsize=12.5,
              handlelength=0.8, handletextpad=1.0, labelspacing=0.4, borderaxespad=0.55,
              borderpad=0.3)


# (a)
ax = fig.add_axes(box(97, 41.5, 1378, 367))
ax.fill_between(core_day, 0, a_core_flow, color=GRAY, linewidth=0.8, edgecolor=GRAY)
for dd, vv in zip(a_hist_day, a_hist_flow):
    ax.plot(dd, vv, color=GRAY, lw=1.3)
ax.plot(a_2015_day, a_2015_flow, color='black', lw=2.6)
setup(ax, 'USGS Flow', (-60, 1562), [0, 500, 1000, 1500], '(a)', '1961-2014', 12,
      'Flow (cubic feet per second)', -0.060)

# (b)
ax = fig.add_axes(box(87, 449, 1378, 776))
ax.fill_between(band_day, b_core_lo, b_core_hi, color=LIGHT, linewidth=0)
for vv in b_hist_temp:
    ax.plot(core_day, vv, color=GRAY, lw=1.3)
ax.plot(b_2015_day, b_2015_temp, color='black', lw=2.6)
setup(ax, 'USGS Water Temperature', (-0.85, 17.6), [0, 5, 10, 15], '(b)', '1996-2014', 12,
      'Temperature (C)', -0.041)

# (c)
ax = fig.add_axes(box(87, 858, 697, 1184))
for vv in c_hist_temp:
    ax.plot(core_day, vv, color=GRAY, lw=1.7)
ax.plot(c_2015_day, c_2015_temp, color='black', lw=2.0)
setup(ax, 'MS Lowest', (-0.8, 26.75), [0, 5, 10, 15, 20, 25], '(c)', '2012-2014', 11,
      'Temperature (C)', -0.0866, tag_xy=(0.968, 0.93))

# (d)
ax = fig.add_axes(box(749, 858, 1378, 1184))
ax.fill_between(band_day, d_hist_lo, d_hist_hi, color=GRAY, edgecolor=GRAY, linewidth=1)
ax.fill_between(d_2015_day, d_2015_lo, d_2015_hi, color='black', edgecolor='black', linewidth=1)
setup(ax, 'Mouth of Raging', (-1.0, 28.15), [0, 5, 10, 15, 20, 25], '(d)', '2012-2014', 11,
      tag_xy=(0.963, 0.93))

# (e)
ax = fig.add_axes(box(87, 1266, 697, 1593))
ax.fill_between(band_day, e_hist_lo, e_hist_hi, color=GRAY, edgecolor=GRAY, linewidth=1)
ax.fill_between(e_2015_day, e_2015_lo, e_2015_hi, color='black', edgecolor='black', linewidth=1.2)
setup(ax, 'SF Asahel', (-0.75, 18.9), [0, 5, 10, 15], '(e)', '2012-2014', 11,
      'Temperature (C)', -0.0866, tag_xy=(0.968, 0.909))

# (f)
ax = fig.add_axes(box(749, 1266, 1378, 1593))
ax.fill_between(band_day, f_hist_lo, f_hist_hi, color=GRAY, edgecolor=GRAY, linewidth=1)
ax.fill_between(f_2015_day, f_2015_lo, f_2015_hi, color='black', edgecolor='black', linewidth=1.2)
setup(ax, 'NF Headwaters', (-0.83, 19.4), [0, 5, 10, 15], '(f)', '2012-2014', 11,
      tag_xy=(0.960, 0.909))

fig.savefig('out.png', dpi=100)
